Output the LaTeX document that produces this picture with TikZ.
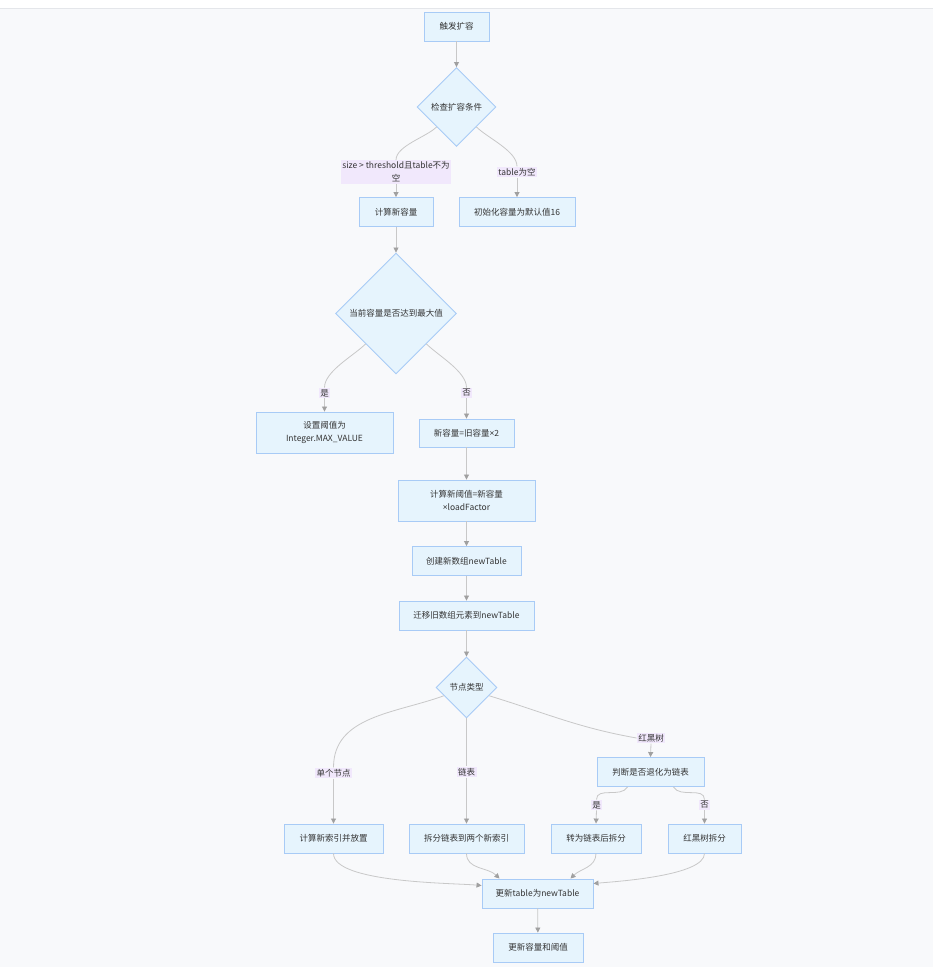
\documentclass[tikz,border=0pt]{standalone}
\usepackage{fontspec}
\setmainfont{Noto Sans CJK SC}
\newfontfamily\latinfont{Noto Sans}
\usetikzlibrary{shapes, arrows.meta, positioning, calc}
\definecolor{boxfill}{HTML}{E6F4FD}
\definecolor{boxline}{HTML}{A8CBF6}
\definecolor{lblfill}{HTML}{F1E8FC}
\definecolor{edgegray}{HTML}{C8C8C8}
\definecolor{tipgray}{HTML}{A0A0A0}
\definecolor{bggray}{HTML}{F8F9FB}
\definecolor{topline}{HTML}{E4E6EA}
\definecolor{txt}{HTML}{333333}

\tikzset{
  proc/.style={draw=boxline, fill=boxfill, line width=0.9pt, minimum height=29pt, inner sep=0pt, align=center, text=txt, font=\fontsize{8.5}{13}\selectfont},
  decide/.style={draw=boxline, fill=boxfill, line width=0.9pt, diamond, aspect=1, inner sep=0pt, text=txt, font=\fontsize{8.5}{13}\selectfont},
  lbl/.style={fill=lblfill, inner sep=1.5pt, align=center, text=txt, font=\fontsize{8.5}{13}\selectfont},
  flow/.style={draw=edgegray, line width=0.8pt, -{Triangle[length=5pt,width=5pt,color=tipgray]}},
  link/.style={draw=edgegray, line width=0.8pt},
}
\newcommand{\tms}{{\latinfont ×}}

\begin{document}
\begin{tikzpicture}[x=1pt, y=-1pt]
  \useasboundingbox (0,0) rectangle (933,967);
  \fill[bggray] (0,8) rectangle (933,967);
  \draw[topline] (0,8) -- (933,8);

  \node[proc, minimum width=65pt] (trig) at (456.5,26.5) {触发扩容};
  \node[decide, minimum size=79pt] (check) at (456.5,107) {检查扩容条件};
  \node[lbl] (lsize) at (396,172) {size > threshold且table不为\\空};
  \node[lbl] (lnull) at (517,172) {table为空};
  \node[proc, minimum width=74pt] (calc) at (396,212) {计算新容量};
  \node[proc, minimum width=116pt] (init) at (517,212) {初始化容量为默认值16};
  \node[decide, minimum size=121pt] (ismax) at (396,313.5) {当前容量是否达到最大值};
  \node[lbl] (lyes1) at (324.5,393) {是};
  \node[lbl] (lno1) at (466.5,393) {否};
  \node[proc, minimum width=137pt, minimum height=41pt] (setmax) at (324.5,432.5) {设置阈值为\\Integer.MAX\_VALUE};
  \node[proc, minimum width=95pt, minimum height=28pt] (dbl) at (466.5,433) {新容量=旧容量\tms2};
  \node[proc, minimum width=137pt, minimum height=41pt] (newthr) at (466.5,500.5) {计算新阈值=新容量\\\tms loadFactor};
  \node[proc, minimum width=109pt] (newtab) at (466.5,561) {创建新数组newTable};
  \node[proc, minimum width=135pt] (move) at (466.5,615.5) {迁移旧数组元素到newTable};
  \node[decide, minimum size=61pt] (ntype) at (466.5,687.5) {节点类型};
  \node[lbl] (lsingle) at (333.5,773) {单个节点};
  \node[lbl] (llist) at (466.5,772) {链表};
  \node[lbl] (ltree) at (651,738) {红黑树};
  \node[proc, minimum width=107pt] (judge) at (650.5,772) {判断是否退化为链表};
  \node[lbl] (lyes2) at (596.5,805) {是};
  \node[lbl] (lno2) at (704.5,805) {否};
  \node[proc, minimum width=99pt] (single) at (333.5,838.5) {计算新索引并放置};
  \node[proc, minimum width=115pt] (split) at (466.5,838.5) {拆分链表到两个新索引};
  \node[proc, minimum width=90pt] (conv) at (596,838.5) {转为链表后拆分};
  \node[proc, minimum width=73pt] (tsplit) at (704.5,838.5) {红黑树拆分};
  \node[proc, minimum width=111pt] (upd) at (537.5,893.5) {更新table为newTable};
  \node[proc, minimum width=90pt] (fin) at (538,947.5) {更新容量和阈值};

  \draw[flow] (trig) -- (check);
  \draw[link] (check.south west) to[out=-135,in=90,looseness=0.7] (lsize.north);
  \draw[flow] (lsize.south) -- (calc.north);
  \draw[link] (check.south east) to[out=-45,in=90,looseness=0.7] (lnull.north);
  \draw[flow] (lnull.south) -- (init.north);
  \draw[flow] (calc) -- (ismax);
  \draw[link] (ismax.south west) to[out=-135,in=90,looseness=0.7] (lyes1.north);
  \draw[flow] (lyes1.south) -- (setmax.north);
  \draw[link] (ismax.south east) to[out=-45,in=90,looseness=0.7] (lno1.north);
  \draw[flow] (lno1.south) -- (dbl.north);
  \draw[flow] (dbl) -- (newthr);
  \draw[flow] (newthr) -- (newtab);
  \draw[flow] (newtab) -- (move);
  \draw[flow] (move) -- (ntype);
  \draw[link] (ntype.200) to[out=200,in=90] (lsingle.north);
  \draw[flow] (lsingle.south) -- (single.north);
  \draw[link] (ntype.south) -- (llist.north);
  \draw[flow] (llist.south) -- (split.north);
  \draw[link] (ntype.-20) to[out=-17,in=170] (ltree.west);
  \draw[flow] (ltree.south) -- (judge.north);
  \draw[link] ([xshift=-23pt]judge.south) to[out=-120,in=90] (lyes2.north);
  \draw[flow] (lyes2.south) -- (conv.north);
  \draw[link] ([xshift=23pt]judge.south) to[out=-60,in=90] (lno2.north);
  \draw[flow] (lno2.south) -- (tsplit.north);
  \draw[flow] (single.south) to[out=-90,in=175,looseness=0.5] ([yshift=8pt]upd.west);
  \draw[flow] (split.south) to[out=-90,in=135] ([xshift=-38pt]upd.north);
  \draw[flow] (conv.south) to[out=-90,in=45] ([xshift=33pt]upd.north);
  \draw[flow] (tsplit.south) to[out=-90,in=5,looseness=0.5] ([yshift=10pt]upd.east);
  \draw[flow] (upd) -- (fin);
\end{tikzpicture}
\end{document}
